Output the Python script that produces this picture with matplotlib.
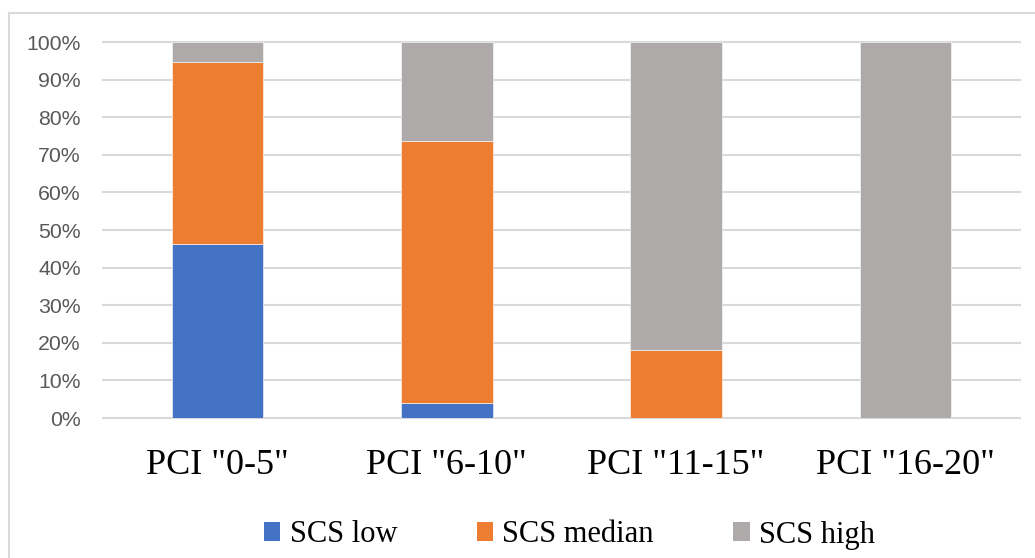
import matplotlib
matplotlib.use("Agg")
import matplotlib.pyplot as plt
from matplotlib.patches import Patch
from matplotlib.lines import Line2D
import numpy as np

categories = ['PCI "0-5"', 'PCI "6-10"', 'PCI "11-15"', 'PCI "16-20"']
scs_low = [46.2, 4.1, 0.0, 0.0]
scs_median = [48.6, 69.7, 18.0, 0.0]
scs_high = [5.2, 26.2, 82.0, 100.0]
series_names = ["SCS low", "SCS median", "SCS high"]
colors = ["#4472C4", "#ED7D31", "#AEAAAA"]
yticks = [0, 10, 20, 30, 40, 50, 60, 70, 80, 90, 100]

W, H = 1035, 558
fig = plt.figure(figsize=(W / 100, H / 100), dpi=100)

# plot area in pixel coords
left, right, top, bottom = 103, 1020, 42, 418
ax = fig.add_axes([left / W, 1 - bottom / H, (right - left) / W, (bottom - top) / H])

x = np.arange(len(categories))
base = np.zeros(len(categories))
for vals, name, col in zip([scs_low, scs_median, scs_high], series_names, colors):
    vals = np.array(vals)
    ax.bar(x, vals, 0.4, bottom=base, color=col, edgecolor="white",
           linewidth=0.4, label=name, zorder=3)
    base += vals

ax.set_xlim(-0.5, len(categories) - 0.5)
ax.set_ylim(0, 100)
ax.set_yticks(yticks)
ax.set_yticklabels([f"{v}%" for v in yticks], fontsize=15.3,
                   family="Liberation Sans", color="#595959")
ax.set_xticks(x)
ax.set_xticklabels(categories, fontsize=26, family="Liberation Serif", color="black")
ax.tick_params(axis="y", length=0, pad=16)
ax.tick_params(axis="x", length=0, pad=22)

for v in yticks:
    ax.axhline(v, color="#D9D9D9", linewidth=1.5, zorder=1, clip_on=False)
for s in ax.spines.values():
    s.set_visible(False)

# outer chart border (top and left visible)
fig.add_artist(Line2D([9 / W, 1.0], [1 - 13 / H, 1 - 13 / H], color="#D9D9D9", linewidth=1.5))
fig.add_artist(Line2D([9 / W, 9 / W], [0, 1 - 13 / H], color="#D9D9D9", linewidth=1.5))

handles = [Patch(facecolor=c, edgecolor="none") for c in colors]
fig.legend(handles, series_names, loc="center", bbox_to_anchor=(569.5 / W, 1 - 535 / H),
           ncol=3, frameon=False, prop={"family": "Liberation Serif", "size": 22},
           handlelength=0.55, handleheight=0.55, handletextpad=0.3, columnspacing=2.6)

fig.savefig("out.png", dpi=100)
